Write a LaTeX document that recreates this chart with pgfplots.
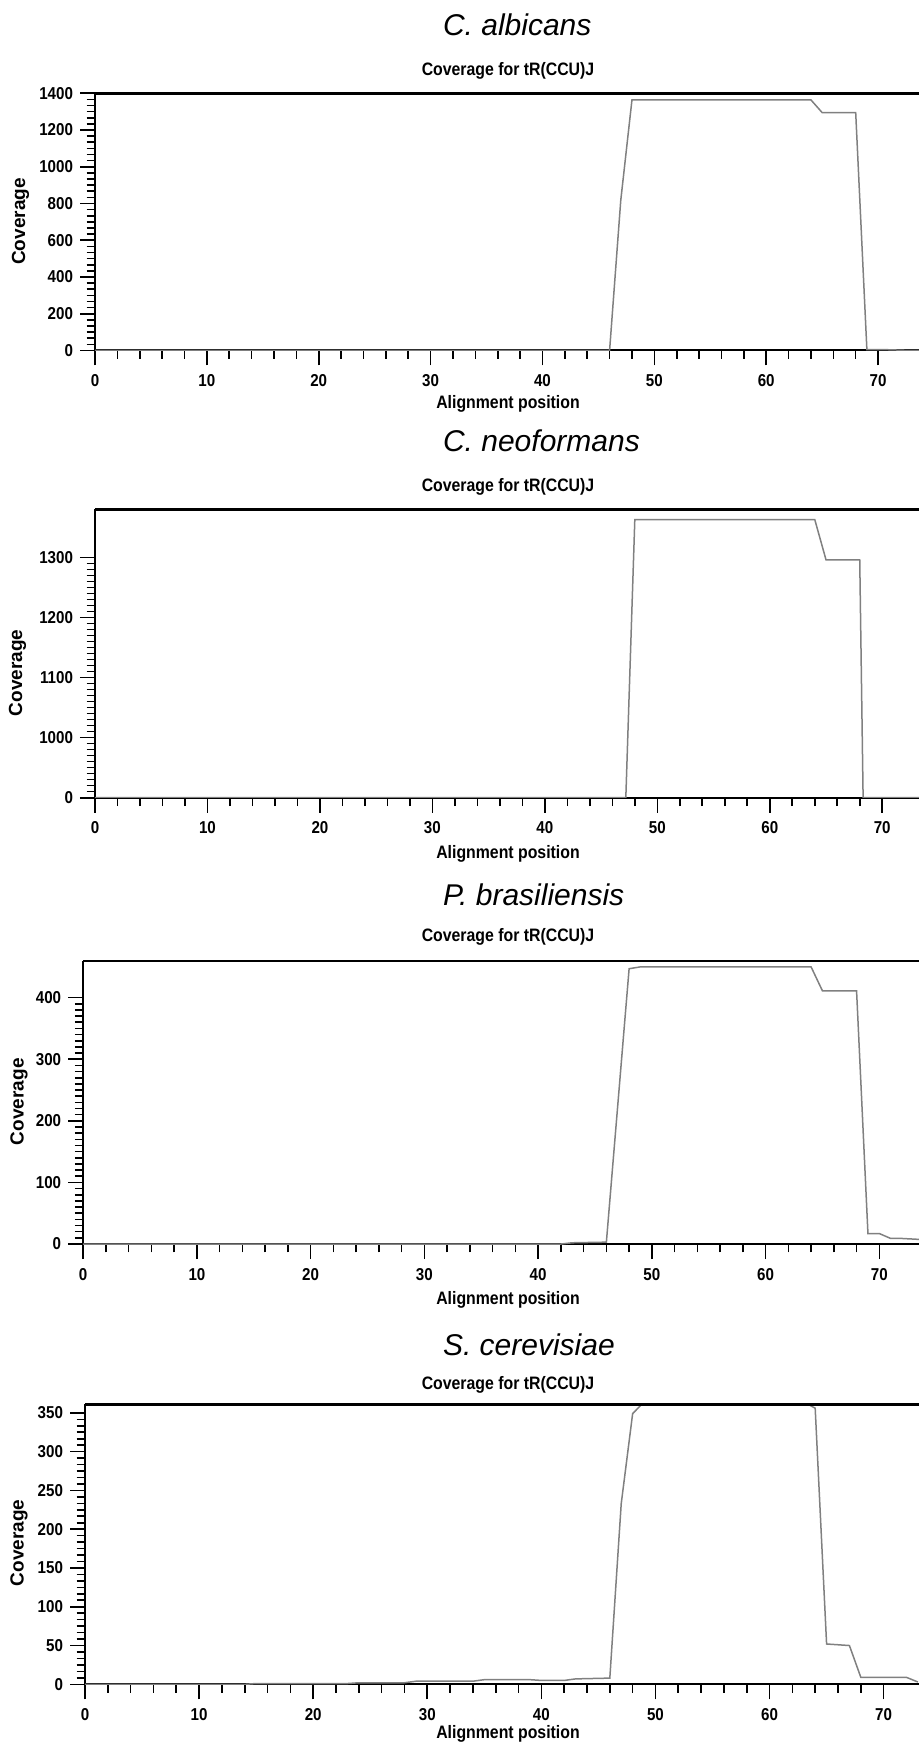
\documentclass[border=0pt]{standalone}
\usepackage{fontspec}
\setmainfont{Liberation Sans}
\newfontfamily\narrowfont[FakeStretch=0.88]{Liberation Sans}
\usepackage{pgfplots}
\pgfplotsset{compat=1.18}

\pgfplotsset{
  covstyle/.style={
    scale only axis,
    anchor=south west,
    axis x line*=bottom,
    axis y line*=left,
    axis line style={line width=1pt,-},
    clip mode=individual,
    xmin=0,
    xtick={0,10,...,70},
    minor x tick num=4,
    tick align=outside,
    major tick length=7.5pt,
    minor tick length=4.2pt,
    every tick/.style={black,line width=0.8pt},
    ticklabel style={font=\narrowfont\bfseries\fontsize{8.6}{10}\selectfont},
    xticklabel style={yshift=-1pt},
    /pgf/number format/assume math mode=true,
    /pgf/number format/1000 sep={},
  },
  covline/.style={color=black!50,line width=0.75pt,no marks},
}
\newcommand{\toptitle}[2]{\node[anchor=base west,font=\itshape\fontsize{15}{18}\selectfont] at (218pt,#1) {#2};}
\newcommand{\subtitle}[1]{\node[anchor=base,font=\narrowfont\bfseries\fontsize{9}{11}\selectfont] at (254pt,#1) {Coverage for tR(CCU)J};}
\newcommand{\xlab}[1]{\node[anchor=base,font=\narrowfont\bfseries\fontsize{9}{11}\selectfont] at (254pt,#1) {Alignment position};}
\newcommand{\ylab}[1]{\node[rotate=90,font=\bfseries\fontsize{9.5}{11}\selectfont] at (#1) {Coverage};}

\begin{document}
\begin{tikzpicture}
\useasboundingbox (0pt,0pt) rectangle (459.5pt,-871.5pt);

% C. albicans
\toptitle{-18pt}{C. albicans}
\subtitle{-37.75pt}
\begin{axis}[covstyle, at={(47.5pt,-175.25pt)}, width=412pt, height=128.6pt,
  xmax=73.66, ymin=0, ymax=1400, ytick={0,200,...,1400}, minor y tick num=5]
\addplot[covline] coordinates {(0,0) (46,0) (47,818) (48,1364) (64,1364) (65,1295) (68,1295) (69,5) (70,5) (71,4) (72,2) (73,0) (74,0)};
\draw[line width=1.4pt] (rel axis cs:0,1) -- (rel axis cs:1,1);
\end{axis}
\xlab{-204.3pt}
\ylab{10.25pt,-110.75pt}

% C. neoformans (broken axis: 0 is drawn at 900)
\toptitle{-225.85pt}{C. neoformans}
\subtitle{-245.75pt}
\begin{axis}[covstyle, at={(47.5pt,-398.85pt)}, width=412pt, height=144.2pt,
  xmax=73.27, ymin=900, ymax=1380, ytick={900,1000,1100,1200,1300},
  yticklabels={0,1000,1100,1200,1300}, minor y tick num=9,
  y filter/.expression={max(y,900)}]
\addplot[covline] coordinates {(0,0) (47.2,0) (48,1363) (64,1363) (65,1296) (68,1296) (68.3,0) (74,0)};
\draw[line width=1.4pt] (rel axis cs:0,1) -- (rel axis cs:1,1);
\end{axis}
\xlab{-429.3pt}
\ylab{8.75pt,-336.5pt}

% P. brasiliensis
\toptitle{-452.5pt}{P. brasiliensis}
\subtitle{-470.75pt}
\begin{axis}[covstyle, at={(41.6pt,-622pt)}, width=417.9pt, height=141.5pt,
  xmax=73.49, ymin=0, ymax=459.5, ytick={0,100,...,400}, minor y tick num=9]
\addplot[covline] coordinates {(0,0) (42,0) (43,2) (46,3) (48,447) (49,450) (64,450) (65,411) (68,411) (69,17) (70,17) (71,9) (72,9) (73,8) (74,7)};
\draw[line width=1.4pt] (rel axis cs:0,1) -- (rel axis cs:1,1);
\end{axis}
\xlab{-652.1pt}
\ylab{9.5pt,-550.85pt}

% S. cerevisiae
\toptitle{-677.5pt}{S. cerevisiae}
\subtitle{-694.5pt}
\begin{axis}[covstyle, at={(42.5pt,-842.15pt)}, width=417pt, height=140pt,
  xmax=73.1, ymin=0, ymax=361, ytick={0,50,...,350}, minor y tick num=5]
\addplot[covline] coordinates {(0,0) (14,0) (15,1) (23,1) (24,2) (28,2) (29,4) (34,4) (35,6) (39,6) (40,5) (42,5) (43,7) (46,8) (47,233) (48,349) (49,364) (63,364) (64,356) (65,52) (67,50) (68,9) (72,9) (73,3)};
\draw[line width=1.4pt] (rel axis cs:0,1) -- (rel axis cs:1,1);
\end{axis}
\xlab{-869.4pt}
\ylab{9.5pt,-771.5pt}
\end{tikzpicture}
\end{document}
